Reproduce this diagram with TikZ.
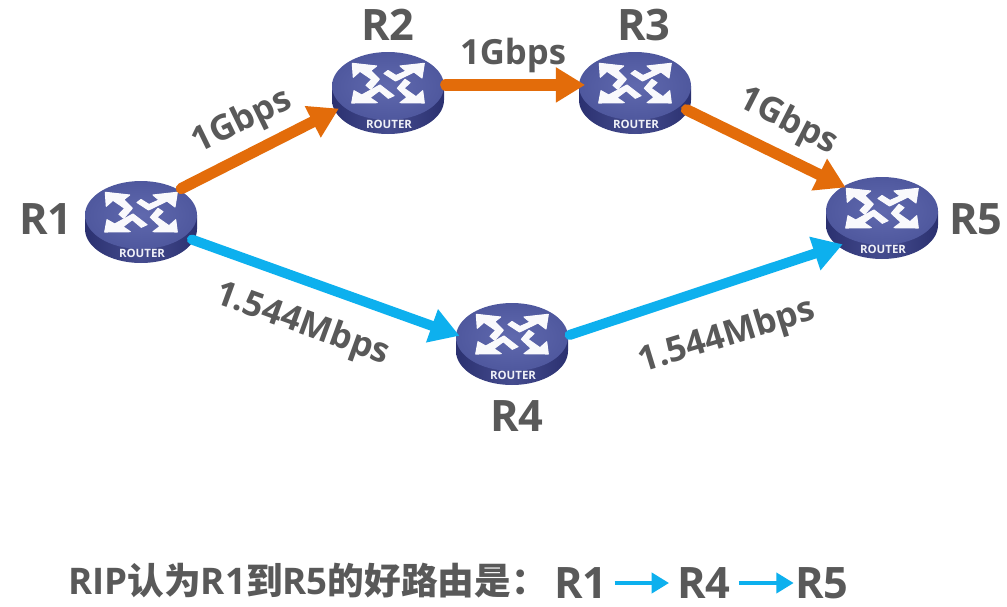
\documentclass[tikz,border=0pt]{standalone}
\usepackage{fontspec}
\setmainfont{Open Sans}
\newfontfamily\cjkbold{Noto Sans CJK SC Bold}
\usetikzlibrary{arrows.meta,shapes.geometric}
\definecolor{txtgray}{HTML}{595959}
\definecolor{linkorange}{HTML}{E36C0A}
\definecolor{linkblue}{HTML}{0DB0EE}
\definecolor{rtop}{HTML}{6069AE}
\definecolor{rtopdark}{HTML}{4F589E}
\definecolor{rside}{HTML}{454C8F}
\definecolor{rsidedark}{HTML}{2B3170}
\tikzset{
  anchorell/.style={ellipse,minimum width=87pt,minimum height=63pt,inner sep=0pt},
  rlabel/.style={font=\bfseries\fontsize{32.5}{33}\selectfont,text=txtgray,inner sep=0pt},
  speed/.style={font=\bfseries\fontsize{26}{26}\selectfont,text=txtgray,inner sep=0pt},
  bottomtxt/.style={font=\bfseries\fontsize{27.5}{28}\selectfont,text=txtgray,inner sep=0pt},
  headtip/.style={-{Triangle[length=22pt,width=25pt]}},
  orangelink/.style={draw=linkorange,line width=8.5pt,line cap=round,headtip},
  bluelink/.style={draw=linkblue,line width=7.5pt,line cap=round,headtip},
  smallarrow/.style={draw=linkblue,line width=3pt,-{Triangle[length=13pt,width=15pt]}},
  whead/.style={fill=white!96!rtop,draw=white!96!rtop,line width=0.8pt,line join=round},
  pics/router/.style={code={
    \path[left color=rsidedark,right color=rsidedark,middle color=rside]
      (-56,0) -- (-56,14) arc[start angle=180,end angle=0,x radius=56,y radius=34] -- (56,0) -- cycle;
    \shade[inner color=rtop,outer color=rtopdark] (0,0) ellipse[x radius=56,y radius=34];
    \begin{scope}[yshift=2.25pt]
    \filldraw[whead] (-35.7,-19.7) -- (-11.3,-17) -- (-17.3,-12.3) -- (-8.7,-3.7) -- (-17.3,6.3) -- (-22,2.3) -- (-16.3,-3.7) -- (-28,-11.7) -- (-34.7,-5.7) -- cycle;
    \filldraw[whead] (36.3,-19.7) -- (12,-17) -- (18,-12) -- (8,-7.5) -- (0,-12.5) -- (-4,-9.5) -- (7.5,-2) -- (26,-11) -- (34,-5) -- cycle;
    \filldraw[whead] (-36.3,20) -- (-10.7,19.7) -- (-18,14.7) -- (-8.7,7.7) -- (0.3,15.3) -- (6,12.7) -- (-8,2) -- (-26.3,12) -- (-34,7.7) -- cycle;
    \filldraw[whead] (36.3,20) -- (12,19.7) -- (19,14.3) -- (9.3,5.3) -- (17,-3.7) -- (22,-0.3) -- (16,5.3) -- (28,13.7) -- (34.7,7.7) -- cycle;
    \end{scope}
    \node[text=white!90!rtop,font=\bfseries\fontsize{8.6}{9}\selectfont,inner sep=0pt] at (1,38) {ROUTER};
  }}
}
\newcommand{\routerat}[3]{%
  \node[anchorell] (#1) at (#2,#3+4) {};
  \pic at (#2,#3) {router};
}
\begin{document}
\begin{tikzpicture}[x=0.75pt,y=-0.75pt]
\useasboundingbox (0,0) rectangle (1007,607);
\fill[white] (0,0) rectangle (1007,607);
\routerat{r1}{141}{215}
\routerat{r2}{388}{86}
\routerat{r3}{635}{86}
\routerat{r4}{512}{337}
\routerat{r5}{882}{211}
\draw[orangelink,shorten >=-2pt] (r1.37) -- (r2.201);
\draw[orangelink,shorten >=-6pt] (r2.5) -- (r3.175);
\draw[orangelink,shorten >=-4pt] (r3.-21) -- (r5.144);
\draw[bluelink,shorten >=-4pt] (r1.-22) -- (r4.173);
\draw[bluelink,shorten >=-1.5pt] (r4.6) -- (r5.216);
\node[rlabel] (l1) at (46,219) {R1};
\node[rlabel] (l2) at (388,25) {R2};
\node[rlabel] (l3) at (644,25) {R3};
\node[rlabel] (l4) at (517,416) {R4};
\node[rlabel] (l5) at (976,219) {R5};
\node[speed,rotate=26] (s1) at (242,122) {1Gbps};
\node[speed] (s2) at (513,55) {1Gbps};
\node[speed,rotate=-27] (s3) at (788,122) {1Gbps};
\node[speed,rotate=-20] (s4) at (302,325) {1.544Mbps};
\node[speed,rotate=17] (s5) at (727,337) {1.544Mbps};
\node[bottomtxt,anchor=west] (t0) at (68,581) {RIP{\cjkbold 认为}R1{\cjkbold 到}R5{\cjkbold 的好路由是：}};
\node[rlabel,anchor=west] (t1) at (554,583) {R1};
\node[rlabel,anchor=west] (t2) at (677,583) {R4};
\node[rlabel,anchor=west] (t3) at (795,583) {R5};
\draw[smallarrow] ([xshift=5pt]t1.east) -- ([xshift=-6pt]t2.west);
\draw[smallarrow] ([xshift=6pt]t2.east) -- ([xshift=-1pt]t3.west);
\end{tikzpicture}
\end{document}
